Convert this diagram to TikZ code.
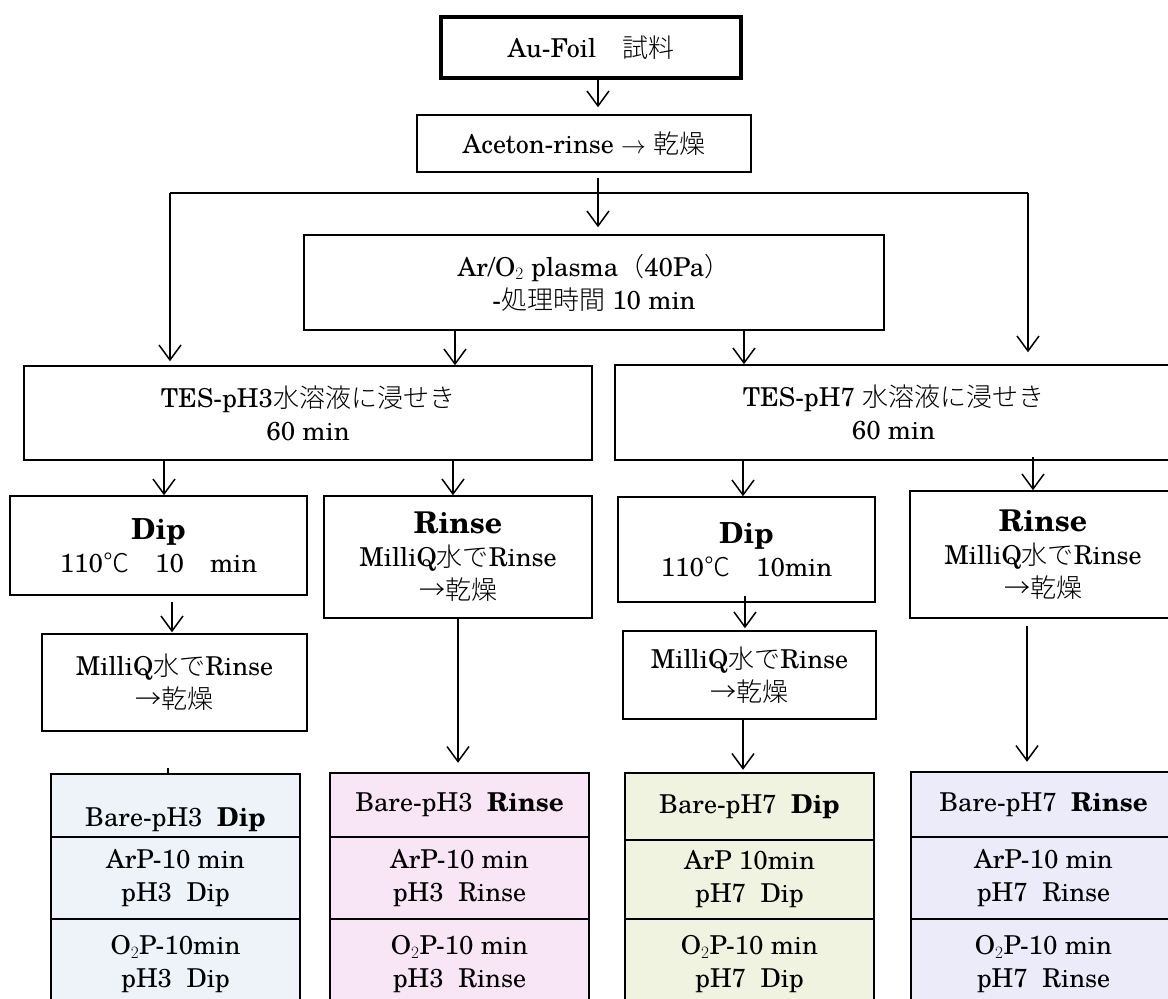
\documentclass[tikz,border=0pt]{standalone}
\usepackage{fontspec}
\setmainfont{texgyreschola-regular.otf}[BoldFont=texgyreschola-bold.otf]
\newfontfamily\jpfont{Noto Sans CJK JP Light}
\newcommand{\jtxt}[1]{{\jpfont #1}}
\usetikzlibrary{arrows.meta}
\definecolor{dipthree}{RGB}{238,243,250}
\definecolor{rinthree}{RGB}{248,230,246}
\definecolor{dipseven}{RGB}{240,243,224}
\definecolor{rinseven}{RGB}{236,235,250}
\begin{document}
\begin{tikzpicture}[x=1pt,y=-1pt,
  box/.style={draw, line width=1.5pt, inner sep=0pt, align=center, font=\fontsize{26}{33}\selectfont},
  cell/.style={draw, line width=2.4pt, inner sep=0pt, align=center, font=\fontsize{26}{33}\selectfont},
  arr/.style={line width=1.5pt, -{Straight Barb[length=15pt,width=22pt]}},
  plain/.style={line width=1.5pt}]
\useasboundingbox (0,0) rectangle (1168,999);
\fill[white] (0,0) rectangle (1168,999);
\clip (0,0) rectangle (1168,999);

% column coordinates
\coordinate (c598) at (598,0);
\coordinate (c455) at (455,0);
\coordinate (c744) at (744,0);
\coordinate (c164) at (164,0);
\coordinate (c453) at (453,0);
\coordinate (c743) at (743,0);
\coordinate (c1033) at (1033,0);
\coordinate (c172) at (172,0);
\coordinate (c745) at (745,0);
\coordinate (c458) at (458,0);
\coordinate (c1027) at (1027,0);
\coordinate (c168) at (168,0);

% top boxes
\node[box, line width=3.8pt, minimum width=300pt, minimum height=61pt] (au) at (591,47.5) {Au-Foil\quad\jtxt{試料}};
\node[box, minimum width=334pt, minimum height=57pt] (ace) at (584,143.5) {Aceton-rinse $\rightarrow$ \jtxt{乾燥}};
\node[box, minimum width=580pt, minimum height=95pt] (plasma) at (594,282.5) {Ar/O$_2$ plasma\jtxt{（}40Pa\jtxt{）}\\-\jtxt{処理時間}\ 10 min};

% TES boxes
\node[box, minimum width=568pt, minimum height=94pt] (tes3) at (308,413) {TES-pH3\jtxt{水溶液に浸せき}\\60 min};
\node[box, minimum width=557pt, minimum height=95pt] (tes7) at (893.5,412.5) {TES-pH7 \jtxt{水溶液に浸せき}\\60 min};

% third row
\node[box, minimum width=297pt, minimum height=99pt] (dip3) at (158.5,545.5) {{\fontsize{29}{33}\selectfont\bfseries Dip}\\110\jtxt{℃}\quad 10\quad min};
\node[box, minimum width=268pt, minimum height=122pt] (rin3) at (458,557) {{\fontsize{30}{33}\selectfont\bfseries Rinse}\\MilliQ\jtxt{水で}Rinse\\\jtxt{→乾燥}};
\node[box, minimum width=265pt, minimum height=97pt] (mq3) at (174.5,682.5) {MilliQ\jtxt{水で}Rinse\\\jtxt{→乾燥}};
\node[box, minimum width=257pt, minimum height=105pt] (dip7) at (746.5,549.5) {{\fontsize{29}{33}\selectfont\bfseries Dip}\\110\jtxt{℃}\quad 10min};
\node[box, minimum width=253pt, minimum height=88pt] (mq7) at (749.5,675) {MilliQ\jtxt{水で}Rinse\\\jtxt{→乾燥}};
\node[box, minimum width=266pt, minimum height=127pt] (rin7) at (1043,554.5) {{\fontsize{30}{33}\selectfont\bfseries Rinse}\\MilliQ\jtxt{水で}Rinse\\\jtxt{→乾燥}};

% bottom tables
\node[cell, fill=dipthree, minimum width=249pt, minimum height=63pt] (b3d1) at (175.5,805.5) {\raisebox{-21pt}[0pt][0pt]{Bare-pH3\ \ \textbf{Dip}}};
\node[cell, fill=dipthree, minimum width=249pt, minimum height=82pt] (b3d2) at (175.5,878) {ArP-10 min\\pH3\ \ Dip};
\node[cell, fill=dipthree, minimum width=249pt, minimum height=91pt] (b3d3) at (175.5,964.5) {O$_2$P-10min\\pH3\ \ Dip};

\node[cell, fill=rinthree, minimum width=259pt, minimum height=64pt] (b3r1) at (459.5,805) {Bare-pH3\ \ \textbf{Rinse}};
\node[cell, fill=rinthree, minimum width=259pt, minimum height=82pt] (b3r2) at (459.5,878) {ArP-10 min\\pH3\ \ Rinse};
\node[cell, fill=rinthree, minimum width=259pt, minimum height=91pt] (b3r3) at (459.5,964.5) {O$_2$P-10 min\\pH3\ \ Rinse};

\node[cell, fill=dipseven, minimum width=249pt, minimum height=67pt] (b7d1) at (749.5,806.5) {Bare-pH7\ \ \textbf{Dip}};
\node[cell, fill=dipseven, minimum width=249pt, minimum height=79pt] (b7d2) at (749.5,879.5) {ArP 10min\\pH7\ \ Dip};
\node[cell, fill=dipseven, minimum width=249pt, minimum height=91pt] (b7d3) at (749.5,964.5) {O$_2$P-10 min\\pH7\ \ Dip};

\node[cell, fill=rinseven, minimum width=265pt, minimum height=65pt] (b7r1) at (1043.5,804.5) {Bare-pH7\ \ \textbf{Rinse}};
\node[cell, fill=rinseven, minimum width=265pt, minimum height=82pt] (b7r2) at (1043.5,878) {ArP-10 min\\pH7\ \ Rinse};
\node[cell, fill=rinseven, minimum width=265pt, minimum height=91pt] (b7r3) at (1043.5,964.5) {O$_2$P-10 min\\pH7\ \ Rinse};

% connectors
\draw[arr, shorten >=7pt] (au.south -| c598) -- (ace.north -| c598);
\draw[arr, shorten <=5pt, shorten >=7pt] (ace.south -| c598) -- (plasma.north -| c598);
\coordinate (jl) at (170,193);
\coordinate (jr) at (1028,193);
\draw[plain] (jl) -- (jr);
\draw[arr, shorten >=4pt] (jl) -- (tes3.north -| jl);
\draw[arr, shorten >=12pt] (jr) -- (tes7.north -| jr);
\draw[arr] (plasma.south -| c455) -- (tes3.north -| c455);
\draw[arr] (plasma.south -| c744) -- (tes7.north -| c744);
\draw[arr] (tes3.south -| c164) -- (dip3.north -| c164);
\draw[arr] (tes3.south -| c453) -- (rin3.north -| c453);
\draw[arr] (tes7.south -| c743) -- (dip7.north -| c743);
\draw[arr, shorten <=-4pt] (tes7.south -| c1033) -- (rin7.north -| c1033);
\draw[arr, shorten <=6pt, shorten >=1pt] (dip3.south -| c172) -- (mq3.north -| c172);
\draw[arr, shorten <=-7pt, shorten >=2pt] (dip7.south -| c745) -- (mq7.north -| c745);
\draw[arr, shorten >=9pt] (rin3.south -| c458) -- (b3r1.north -| c458);
\draw[arr, shorten >=2pt] (mq7.south -| c743) -- (b7d1.north -| c743);
\draw[arr, shorten <=7pt, shorten >=9pt] (rin7.south -| c1027) -- (b7r1.north -| c1027);
\draw[plain] (b3d1.north -| c168) -- ++(0,-5);
\end{tikzpicture}
\end{document}
